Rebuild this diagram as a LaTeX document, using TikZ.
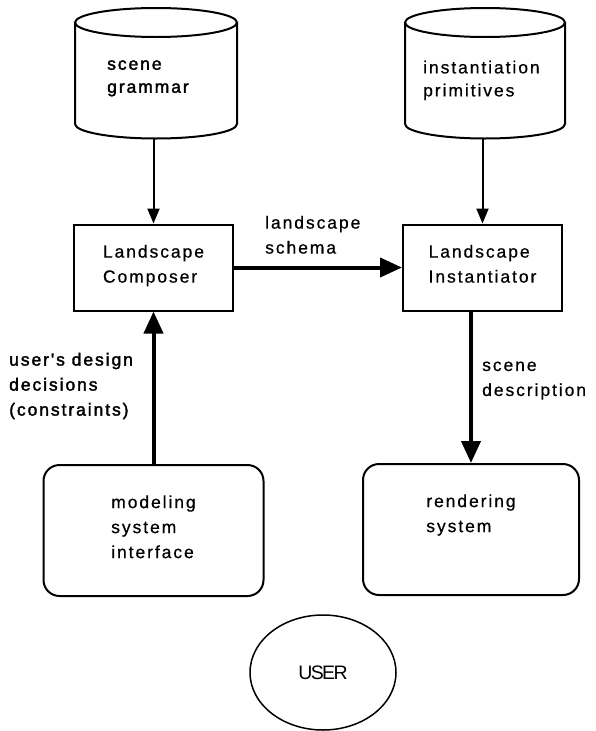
\documentclass[tikz,border=0pt]{standalone}
\usepackage{fontspec}
\setmainfont{Liberation Sans}[LetterSpace=11,FakeBold=0.6]
\newfontfamily\heavyfont{Liberation Sans}[LetterSpace=11,FakeBold=2]
\newfontfamily\userfont{Liberation Sans}[LetterSpace=-8]
\usetikzlibrary{arrows.meta,shapes.geometric}
\begin{document}
\begin{tikzpicture}[x=1pt,y=-1pt,
  txt/.style={font=\fontsize{17.5}{25}\selectfont, align=left, inner sep=0pt,
    execute at begin node=\strut, execute at end node=\strut},
  cyltxt/.style={font=\fontsize{17.5}{23}\selectfont, align=left, inner sep=0pt,
    execute at begin node=\strut, execute at end node=\strut},
  cylline/.style={line width=2pt},
  sqbox/.style={draw, line width=2pt, minimum width=159pt, minimum height=86pt},
  rbox/.style={draw, line width=2pt, rounded corners=16pt, minimum height=131pt},
  thinarr/.style={line width=2pt, -{Triangle[length=15pt,width=12pt]}},
  thickarr/.style={line width=4pt, -{Triangle[length=22pt,width=19pt]}},
  usernode/.style={draw, ellipse, line width=1.5pt, minimum width=146pt, minimum height=115pt,
    font=\userfont\fontsize{19.5}{20}\selectfont}
]
\useasboundingbox (0,0) rectangle (596,731);

% cylinders
\draw[cylline] (156,22.5) ellipse[x radius=81, y radius=14.5];
\draw[cylline] (75,22.5) -- (75,124) arc[start angle=180, end angle=0, x radius=81, y radius=14.5] -- (237,22.5);
\coordinate (sgb) at (156,138.5);
\node[cyltxt, font=\heavyfont\fontsize{17.5}{23}\selectfont, anchor=west] (sg) at (107,80) {scene\\grammar};

\draw[cylline] (485,22.5) ellipse[x radius=80, y radius=14.5];
\draw[cylline] (405,22.5) -- (405,124) arc[start angle=180, end angle=0, x radius=80, y radius=14.5] -- (565,22.5);
\coordinate (ipb) at (485,138.5);
\node[cyltxt, anchor=west] (ip) at (423,82) {instantiation\\primitives};

% boxes
\node[sqbox, txt] (lc) at (153.5,267.5) {Landscape\\Composer};
\node[sqbox, txt] (li) at (482.5,267.5) {Landscape\\Instantiator};
\node[rbox, txt, minimum width=220pt] (ms) at (153.5,530.5) {modeling\\system\\interface};
\node[rbox, txt, minimum width=216pt] (rs) at (471,529.5) {rendering\\system\\\mbox{}};
\node[usernode] (user) at (323,672.5) {USER};

% labels
\node[txt, anchor=west] (ls) at (265,238.5) {landscape\\schema};
\node[txt, font=\heavyfont\fontsize{17.5}{25}\selectfont, anchor=west] (ud) at (9,388) {user's design\\decisions\\(constraints)};
\node[txt, anchor=west] (sd) at (482,382.5) {scene\\description};

% connectors
\draw[thinarr] (lc.north |- sgb) -- (lc.north);
\draw[thinarr] (li.north |- ipb) -- (li.north);
\draw[thickarr] (lc.east) -- (li.west);
\draw[thickarr] (ms.north) -- (lc.south);
\draw[thickarr] (rs.north |- li.south) -- (rs.north);
\end{tikzpicture}
\end{document}
